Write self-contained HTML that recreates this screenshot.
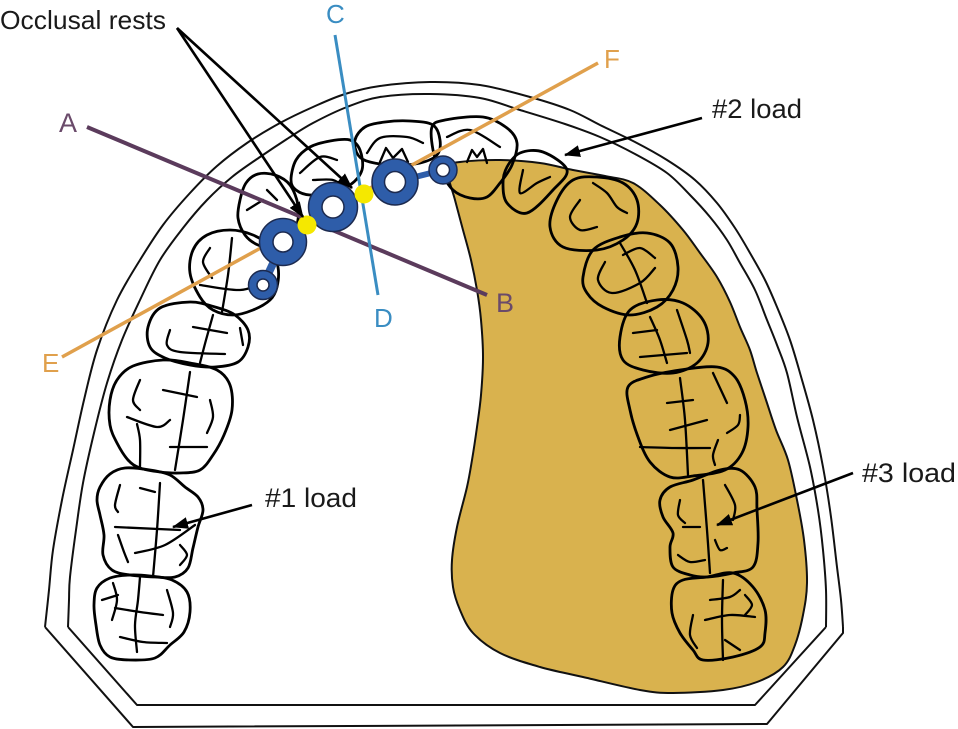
<!DOCTYPE html>
<html><head><meta charset="utf-8"><style>
html,body{margin:0;padding:0;background:#fff;}
svg{display:block;}
text{font-family:"Liberation Sans",Arial,sans-serif;}
</style></head><body>
<svg width="958" height="729" viewBox="0 0 958 729" xmlns="http://www.w3.org/2000/svg">
<defs>
<marker id="ah" markerUnits="userSpaceOnUse" markerWidth="16" markerHeight="12" refX="15" refY="6" orient="auto">
<path d="M0,0 L16,6 L0,12 z" fill="#000"/>
</marker>
</defs>
<rect width="958" height="729" fill="#fff"/>

<!-- arch outlines -->
<g fill="none" stroke="#111" stroke-width="2" stroke-linejoin="round">
<polyline class="s" points="45,627 49,590 53,550 62,500 73,450 84,400 97,350 117,300 140,260 163,225 190,193 217,166 247,143 280,123 313,107 345,94 380,86 430,82 480,85 530,97 570,110 600,125 635,142 667,160 695,180 717,203 735,228 750,253 765,280 777,307 790,340 800,373 813,420 823,467 831,517 837,567 841,600 843,627"/>
<polyline points="843,627 843,633 767,724 133,727 45,627"/>
<polyline class="s" points="68,627 69,600 70,577 76,530 83,483 94,433 107,383 122,340 140,300 160,260 183,228 207,200 232,177 260,157 287,139 313,123 347,107 380,97 430,94 480,98 520,110 565,124 600,137 635,154 667,173 690,195 710,217 727,240 740,263 755,290 767,320 777,345 787,373 797,417 810,467 818,510 823,550 826,590 826,627"/>
<polyline points="826,627 755,705 137,705 68,627"/>
</g>

<!-- gold denture base -->
<polygon class="s" fill="#D9B24E" stroke="#111" stroke-width="2" points="447,168 460,162 500,160 540,163 573,170 605,176 633,183 660,205 683,230 700,253 717,277 730,302 740,327 750,350 757,373 766,400 776,430 788,460 797,500 804,540 807,583 803,615 795,645 783,667 757,682 723,690 673,693 640,690 583,677 540,667 500,653 473,633 460,610 453,587 452,560 457,527 467,487 472,460 477,427 481,395 483,357 481,320 477,290 471,260 463,230 455,200"/>

<!-- teeth outlines -->
<g fill="none" stroke="#000" stroke-width="2.8" stroke-linejoin="round" stroke-linecap="round">
<polygon class="s" points="97,588 110,578 130,575 150,576 172,580 187,592 190,612 184,632 170,645 155,658 130,660 110,657 100,645 96,625 94,605"/>
<polygon class="s" points="100,487 110,474 125,468 150,470 170,475 185,487 198,497 203,510 198,527 193,548 188,568 175,577 155,577 130,575 112,570 103,555 104,535 100,515 97,500"/>
<polygon class="s" points="110,400 117,380 133,366 163,360 190,363 217,370 230,385 232,410 224,435 213,455 200,470 180,473 160,472 140,468 128,460 117,443 110,425"/>
<polygon class="s" points="148,327 160,308 190,302 215,307 235,315 248,330 248,347 238,362 215,367 190,365 165,358 150,347"/>
<polygon class="s" points="193,250 207,235 230,230 253,235 270,247 278,267 277,287 270,300 253,310 233,315 213,310 200,297 190,273"/>
<polygon class="s" points="240,200 246,183 258,174 275,175 290,185 298,205 297,225 290,240 275,248 258,245 245,235 238,218"/>
<polygon class="s" points="291,180 296,160 310,147 330,141 350,140 360,150 362,170 350,185 330,192 310,195 296,190"/>
<polygon class="s" points="355,140 365,127 385,122 410,121 433,125 440,140 437,155 420,163 395,165 370,162 358,155"/>
<polygon class="s" points="432,127 445,120 483,117 507,128 517,143 512,165 500,183 487,197 470,198 453,190 440,170 433,150"/>
<polygon class="s" points="503,183 507,167 520,153 543,152 567,170 553,190 527,213 507,203"/>
<polygon class="s" points="557,200 573,180 597,177 623,183 637,200 637,223 623,240 597,250 563,247 550,227"/>
<polygon class="s" points="583,277 593,250 620,237 647,233 670,243 678,267 673,290 657,307 630,315 603,307 587,293"/>
<polygon class="s" points="620,337 630,310 657,300 683,303 703,320 708,343 697,363 673,373 643,370 623,360"/>
<polygon class="s" points="628,387 647,377 680,370 717,367 735,377 745,400 748,427 742,453 725,470 693,476 670,477 650,462 638,437 630,410"/>
<polygon class="s" points="660,500 670,487 693,480 720,470 740,470 755,487 757,510 758,543 753,567 733,573 707,577 690,575 673,567 670,547 673,533 663,517"/>
<polygon class="s" points="673,590 683,580 707,577 733,573 753,587 765,610 765,633 760,647 733,657 703,660 693,650 680,633 672,613"/>
</g>

<!-- fissure lines -->
<g fill="none" stroke="#000" stroke-width="2.3" stroke-linejoin="round" stroke-linecap="round">
<polyline class="s" points="140,577 138,600 135,625 137,652"/>
<polyline class="s" points="115,608 140,612 163,615"/>
<polyline class="s" points="102,600 118,595"/>
<polyline class="s" points="120,637 143,642 167,643"/>
<polyline class="s" points="167,590 173,613 170,627"/>
<polyline class="s" points="113,583 117,600 112,620"/>

<polyline class="s" points="160,483 157,530 153,577"/>
<polyline points="115,527 180,530"/>
<polyline class="s" points="135,553 165,545 195,525"/>
<polyline class="s" points="120,485 115,505 118,512"/>
<polyline class="s" points="140,488 155,492"/>
<polyline class="s" points="118,535 124,552 128,562"/>
<polyline class="s" points="180,545 187,555 180,565"/>

<polyline class="s" points="190,372 183,420 175,470"/>
<polyline points="163,390 197,397"/>
<polyline points="170,447 207,447"/>
<polyline class="s" points="127,417 157,427 170,420"/>
<polyline class="s" points="137,424 140,440 140,467"/>
<polyline class="s" points="140,380 133,400 140,410"/>
<polyline class="s" points="210,400 213,417 207,433"/>

<polyline class="s" points="213,315 206,340 200,363"/>
<polyline points="193,327 227,333"/>
<polyline class="s" points="170,330 167,345 180,352 225,354"/>
<polyline class="s" points="240,328 243,345"/>

<polyline class="s" points="232,238 228,275 222,312"/>
<polyline class="s" points="200,285 240,290 265,282"/>
<polyline class="s" points="210,248 203,262 212,278"/>

<polyline class="s" points="247,210 263,200"/>
<polyline class="s" points="267,190 277,200"/>

<polyline class="s" points="300,173 320,157 337,160"/>
<polyline class="s" points="313,180 333,180 343,187"/>

<polyline class="s" points="367,153 380,138 407,137 423,143"/>
<polyline points="380,162 386,148 393,158 402,149 408,162"/>
<polyline class="s" points="447,137 470,130 500,147"/>
<polyline points="467,162 472,150 477,157 483,149 487,163"/>

<polyline class="s" points="523,170 520,193 537,183 550,177"/>

<polyline class="s" points="580,200 570,217 580,230 597,227"/>
<polyline class="s" points="593,183 607,193 617,207 627,213"/>

<polyline class="s" points="620,243 635,270 647,303"/>
<polyline class="s" points="605,262 598,280 612,293 640,283 655,268"/>
<polyline class="s" points="623,255 640,248 655,258"/>

<polyline class="s" points="650,317 660,340 667,363"/>
<polyline points="633,333 657,330"/>
<polyline points="640,357 687,353"/>
<polyline class="s" points="677,310 687,340 690,353"/>

<polyline class="s" points="680,378 685,420 688,475"/>
<polyline points="667,403 693,400"/>
<polyline points="670,430 707,420"/>
<polyline class="s" points="640,447 675,448 710,448"/>
<polyline points="713,373 727,403"/>
<polyline class="s" points="727,433 738,425 740,415"/>
<polyline class="s" points="718,440 713,455 715,465"/>

<polyline class="s" points="703,480 707,530 710,573"/>
<polyline class="s" points="680,500 678,515 685,523"/>
<polyline class="s" points="683,527 700,527"/>
<polyline class="s" points="725,485 735,505 733,520"/>
<polyline class="s" points="715,540 720,550 727,548"/>
<polyline class="s" points="678,555 690,562 705,560"/>

<polyline class="s" points="723,580 722,620 723,660"/>
<polyline class="s" points="710,600 730,597 740,590"/>
<polyline class="s" points="705,620 730,615 755,617"/>
<polyline class="s" points="693,615 690,635 697,648"/>
<polyline class="s" points="745,595 752,605 745,615"/>
<polyline class="s" points="725,640 740,650"/>
</g>

<!-- reference lines -->
<line x1="62" y1="357" x2="598" y2="63" stroke="#E0A04C" stroke-width="3.5"/>
<line x1="87" y1="127" x2="487" y2="295" stroke="#5B3B5C" stroke-width="4"/>
<line x1="335" y1="35" x2="378" y2="295" stroke="#3A8DC2" stroke-width="3"/>

<!-- occlusal rests -->
<g stroke="#1c2a4f" stroke-width="1.5">
<line x1="263" y1="285" x2="283" y2="242" stroke="#2E5DA9" stroke-width="8"/>
<line x1="395" y1="182" x2="443" y2="170" stroke="#2E5DA9" stroke-width="6"/>
<circle cx="263" cy="285" r="14.5" fill="#2E5DA9"/>
<circle cx="263" cy="285" r="6" fill="#fff"/>
<circle cx="283" cy="242" r="23.5" fill="#2E5DA9"/>
<circle cx="283" cy="242" r="10" fill="#fff"/>
<circle cx="333" cy="207" r="24.5" fill="#2E5DA9"/>
<circle cx="333" cy="207" r="11" fill="#fff"/>
<circle cx="395" cy="182" r="23" fill="#2E5DA9"/>
<circle cx="395" cy="182" r="10.5" fill="#fff"/>
<circle cx="443" cy="170" r="14" fill="#2E5DA9"/>
<circle cx="443" cy="170" r="6.5" fill="#fff"/>
</g>
<circle cx="307" cy="225" r="9.5" fill="#F5E800"/>
<circle cx="364" cy="194" r="9.5" fill="#F5E800"/>

<!-- arrows -->
<g stroke="#000" stroke-width="2.6" fill="none">
<line x1="177" y1="28" x2="303" y2="217" marker-end="url(#ah)"/>
<line x1="177" y1="28" x2="352" y2="188" marker-end="url(#ah)"/>
<line x1="702" y1="118" x2="565" y2="155" marker-end="url(#ah)"/>
<line x1="252" y1="505" x2="173" y2="527" marker-end="url(#ah)"/>
<line x1="853" y1="473" x2="717" y2="525" marker-end="url(#ah)"/>
</g>

<!-- labels -->
<text x="0" y="29" font-size="26" fill="#1a1a1a" textLength="166" lengthAdjust="spacingAndGlyphs">Occlusal rests</text>
<text x="59" y="132" font-size="27" fill="#6a4a6a">A</text>
<text x="496" y="312" font-size="27" fill="#6a4a6a">B</text>
<text x="326" y="23" font-size="26" fill="#3A8DC2">C</text>
<text x="374" y="327" font-size="26" fill="#3A8DC2">D</text>
<text x="42" y="372" font-size="26" fill="#E0A04C">E</text>
<text x="604" y="68" font-size="26" fill="#E0A04C">F</text>
<text x="712" y="118" font-size="27" fill="#1a1a1a" textLength="90" lengthAdjust="spacingAndGlyphs">#2 load</text>
<text x="265" y="507" font-size="27" fill="#1a1a1a" textLength="92" lengthAdjust="spacingAndGlyphs">#1 load</text>
<text x="862" y="482" font-size="27" fill="#1a1a1a" textLength="94" lengthAdjust="spacingAndGlyphs">#3 load</text>
</svg>
<script>
(function(){
  var NS="http://www.w3.org/2000/svg";
  function f(p){return p[0].toFixed(1)+","+p[1].toFixed(1);}
  function cr(pts,closed){
    var n=pts.length;
    function P(i){ if(closed) return pts[(i%n+n)%n]; return pts[Math.max(0,Math.min(n-1,i))]; }
    var d="M"+f(pts[0]);
    var segs=closed?n:n-1;
    for(var i=0;i<segs;i++){
      var p0=P(i-1),p1=P(i),p2=P(i+1),p3=P(i+2);
      var c1=[p1[0]+(p2[0]-p0[0])/6,p1[1]+(p2[1]-p0[1])/6];
      var c2=[p2[0]-(p3[0]-p1[0])/6,p2[1]-(p3[1]-p1[1])/6];
      d+="C"+f(c1)+" "+f(c2)+" "+f(p2);
    }
    if(closed) d+="Z";
    return d;
  }
  var els=document.querySelectorAll("polygon.s, polyline.s");
  for(var k=0;k<els.length;k++){
    var el=els[k];
    var pts=el.getAttribute("points").trim().split(/\s+/).map(function(s){return s.split(",").map(Number);});
    if(pts.length<3) continue;
    var p=document.createElementNS(NS,"path");
    p.setAttribute("d",cr(pts,el.tagName.toLowerCase()==="polygon"));
    for(var a=0;a<el.attributes.length;a++){
      var at=el.attributes[a];
      if(at.name!=="points"&&at.name!=="class") p.setAttribute(at.name,at.value);
    }
    el.parentNode.replaceChild(p,el);
  }
})();
</script>
</body></html>
